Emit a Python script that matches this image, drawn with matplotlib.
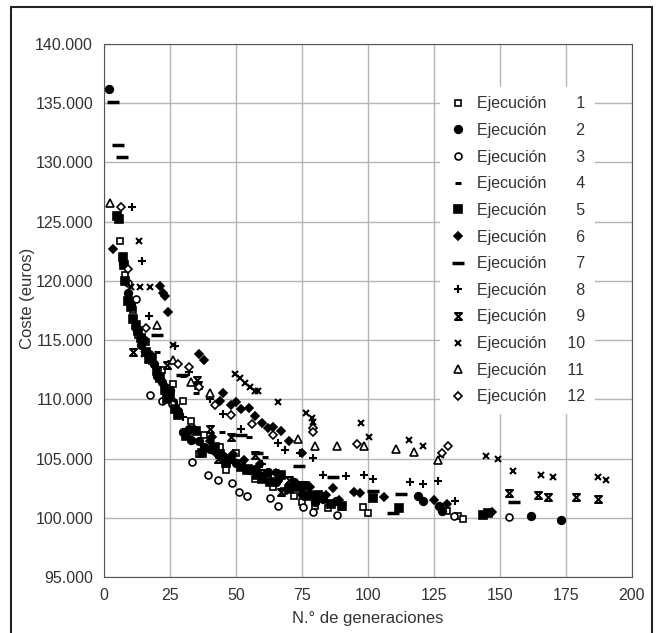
import numpy as np
import matplotlib
matplotlib.use('Agg')
import matplotlib.pyplot as plt
from matplotlib.path import Path
from matplotlib.patches import Rectangle
from matplotlib.ticker import FuncFormatter

plt.rcParams['font.family'] = ['Liberation Sans', 'DejaVu Sans']

#? ================================= datos (coste en miles de euros)
x1 = [6, 8, 11, 13, 16, 18, 22, 24, 26, 30, 33, 36, 38, 44, 46, 50, 55, 57, 62, 64, 68, 72, 75, 80, 82, 85,
      90, 98, 100, 130, 134, 136]
y1 = [123.4, 120.5, 117.5, 115.4, 114.8, 113.2, 112.5, 110.8, 111.3, 109.9, 108.2, 105.4, 107.0, 106.0, 104.0, 105.5,
      104.2, 103.3, 103.3, 102.6, 102.3, 101.8, 101.3, 101.0, 101.8, 100.8, 100.9, 100.9, 100.4, 100.6, 100.15, 99.9]

x2 = [2, 7, 9, 10, 12, 14, 15, 17, 19, 20, 22, 23, 25, 26, 28, 30, 32, 33, 36, 38, 40, 42, 45, 47, 50, 52, 55,
      57, 60, 62, 65, 66, 70, 72, 75, 78, 80, 83, 88, 119, 121, 127, 128, 161.7, 173]
y2 = [136.2, 121.5, 119.0, 118.0, 116.0, 114.6, 115.0, 113.8, 113.0, 112.0, 111.5, 111.0, 110.8, 109.8, 109.0,
      107.2, 107.5, 106.6, 106.5, 106.0, 105.8, 105.6, 105.2, 104.9, 104.6, 104.6, 104.0, 104.1, 103.5, 103.9,
      103.0, 103.3, 102.5, 103.0, 102.0, 102.0, 101.3, 101.6, 101.4, 101.8, 101.4, 101.0, 100.6, 100.15, 99.8]

x3 = [9, 12, 17.5, 22, 25.8, 33.4, 39.5, 43.3, 48.5, 51, 54.3, 63, 65.7, 75.5, 79.3, 88.4, 132.4, 153.3]
y3 = [119.8, 118.5, 110.4, 109.9, 109.6, 104.7, 103.6, 103.2, 102.9, 102.2, 101.8, 101.7, 101.0, 100.9, 100.5, 100.2,
      100.15, 100.1]

x4 = [20, 25, 30, 35, 44.8, 48.6, 55, 61, 65, 72, 86.5]
y4 = [114.0, 113.2, 112.0, 110.5, 107.2, 107.0, 106.8, 105.1, 104.0, 103.0, 103.4]

x5 = [5, 5.5, 7, 7.5, 8, 9, 10, 11, 12, 13, 14, 16, 17, 18, 20, 21, 23, 24, 25, 27, 28, 31, 35, 37, 42, 44, 46,
      48, 52, 54, 58, 60, 63, 67, 70, 73, 76, 77, 81, 86, 90, 102, 111.6, 143.5, 145.3]
y5 = [125.5, 125.2, 122.0, 121.3, 120.0, 118.3, 117.8, 116.8, 116.3, 115.8, 115.2, 114.0, 113.4, 113.5, 112.4, 111.8,
      110.8, 110.0, 110.3, 109.2, 108.7, 106.9, 107.3, 105.5, 106.0, 105.4, 104.6, 105.0, 104.3, 104.0, 103.6, 103.3,
      103.0, 103.6, 102.4, 102.6, 102.7, 101.8, 101.9, 101.2, 101.0, 101.7, 100.8, 100.2, 100.4]

x6 = [3.4, 21, 22.4, 23, 24.3, 34, 36, 38, 40, 41, 44, 45, 48, 49, 50, 52, 53, 55, 57, 59, 60, 62, 64, 65, 67,
      70, 71, 75, 78, 84, 86.9, 89, 94.5, 97, 106, 125, 130, 147]
y6 = [122.7, 119.6, 119.0, 118.7, 117.4, 107.5, 113.8, 113.3, 106.5, 106.8, 109.9, 110.5, 109.5, 105.4, 109.8, 109.2,
      104.9, 109.3, 108.6, 104.5, 108.0, 107.6, 107.7, 103.8, 107.3, 106.5, 102.8, 105.5, 102.6, 101.9, 102.5, 101.5,
      102.2, 102.1, 101.75, 101.5, 101.2, 100.5]

x7 = [3.5, 5.3, 6.8, 20, 29.6, 52, 58, 74, 86.9, 102, 112.3, 109.3, 155.2]
y7 = [135.1, 131.5, 130.5, 115.4, 112.05, 107.0, 105.5, 104.4, 103.4, 102.3, 102.0, 100.4, 101.3]

x8 = [10.6, 14.4, 17, 27, 30, 32, 40, 45, 52, 60, 65.7, 68.7, 74.4, 79.3, 83.1, 91.5, 98.3, 102, 116, 120.7,
      126.5, 133]
y8 = [126.2, 121.7, 117.0, 114.5, 108.5, 112.3, 110.0, 108.8, 107.5, 104.5, 106.3, 105.7, 105.5, 105.05, 103.6, 103.5,
      103.6, 103.3, 103.0, 102.85, 103.1, 101.4]

x9 = [11, 24, 35.3, 35.5, 40, 43, 48, 57, 60, 67, 70, 75, 80, 153.3, 164.3, 168.1, 178.7, 187.1]
y9 = [114.0, 112.9, 111.6, 111.2, 107.5, 105.0, 106.8, 105.3, 103.8, 102.2, 103.2, 102.8, 101.5, 102.1, 101.9,
      101.75, 101.75, 101.6]

x10 = [13.3, 10.2, 13.7, 15, 17.5, 26.2, 49.7, 51.6, 53.5, 55.4, 57.3, 58.4, 65.7, 76.3, 78.9, 79.3, 97.2, 100.2,
       115.4, 120.7, 127.5, 144.6, 149.1, 154.8, 165.5, 170, 187, 190.1]
y10 = [123.4, 119.5, 119.5, 113.8, 119.5, 114.6, 112.1, 111.8, 111.4, 111.0, 110.7, 110.7, 109.8, 108.85, 108.4, 108.1,
       108.0, 106.8, 106.6, 106.1, 105.3, 105.2, 104.96, 103.95, 103.6, 103.4, 103.4, 103.2]

x11 = [2.3, 20, 26, 33, 40, 73.6, 80, 88.4, 98.3, 110.4, 117.3, 126.4]
y11 = [126.6, 116.3, 113.3, 111.5, 110.5, 106.65, 106.1, 106.1, 106.1, 105.8, 105.55, 104.9]

x12 = [6.4, 9, 16, 28, 32, 36, 42, 48, 56, 64, 79, 79.3, 96, 128, 130.2]
y12 = [126.2, 121.0, 116.0, 113.0, 112.7, 111.0, 109.5, 108.7, 107.9, 107.0, 107.6, 107.2, 106.2, 105.5, 106.1]

# reloj de arena para la ejecucion 9
reloj = Path([(-1, 1), (1, 1), (-1, -1), (1, -1), (-1, 1)],
             [Path.MOVETO, Path.LINETO, Path.LINETO, Path.LINETO, Path.CLOSEPOLY])

series = [
    (x1, y1, dict(marker='s', mfc='white', ms=5)),
    (x2, y2, dict(marker='o', mfc='black', ms=5.5)),
    (x3, y3, dict(marker='o', mfc='white', ms=5)),
    (x4, y4, dict(marker='_', ms=5, mew=2.2)),
    (x5, y5, dict(marker='s', mfc='black', ms=5.5)),
    (x6, y6, dict(marker='D', mfc='black', ms=4.5)),
    (x7, y7, dict(marker='_', ms=8.5, mew=2.5)),
    (x8, y8, dict(marker='+', ms=6, mew=1.5)),
    (x9, y9, dict(marker=reloj, mfc='none', ms=5, mew=1.5)),
    (x10, y10, dict(marker='x', ms=5, mew=1.5)),
    (x11, y11, dict(marker='^', mfc='white', ms=5.5)),
    (x12, y12, dict(marker='D', mfc='white', ms=4.5)),
]

fig = plt.figure(figsize=(6.59, 6.33), dpi=100)
ax = fig.add_axes([0.158, 0.0885, 0.801, 0.842])

for i, (xs, ys, estilo) in enumerate(series):
    n = i + 1
    pad = '\u2007' if n < 10 else ''
    ax.plot(xs, np.array(ys) * 1000, linestyle='none', color='black', mec='black', mew=estilo.pop('mew', 1.2),
            label=f'Ejecución\u2007\u2007\u2009{pad}{n}', **estilo)

ax.set_xlim(0, 200)
ax.set_ylim(95000, 140000)
ax.set_xticks(np.arange(0, 201, 25))
ax.set_yticks(np.arange(95000, 140001, 5000))
ax.yaxis.set_major_formatter(FuncFormatter(lambda v, p: f'{v:,.0f}'.replace(',', '.')))
ax.tick_params(length=0, labelsize=11.5, labelcolor='#333333', pad=8)
ax.grid(True, color='#b5b5b5', linewidth=1.0)
ax.set_axisbelow(True)
for s in ax.spines.values():
    s.set_color('#555555')

ax.set_xlabel('N.° de generaciones', fontsize=12, color='#333333', labelpad=6)
ax.set_ylabel('Coste (euros)', fontsize=12, color='#333333', va='center')
ax.yaxis.set_label_coords(-0.146, 0.523)

ley = ax.legend(loc='upper right', bbox_to_anchor=(0.93, 0.92), borderaxespad=0, fontsize=11.5,
                frameon=True, fancybox=False, edgecolor='none', facecolor='white', framealpha=1,
                numpoints=1, handlelength=1.0, handletextpad=0.7, labelspacing=0.73, borderpad=0.6)
for t in ley.get_texts():
    t.set_color('#333333')

fig.patches.append(Rectangle((11 / 659, -0.02), 641 / 659, 1.0089, transform=fig.transFigure,
                             fill=False, edgecolor='#222222', linewidth=1.5))

fig.savefig('out.png', dpi=100)
